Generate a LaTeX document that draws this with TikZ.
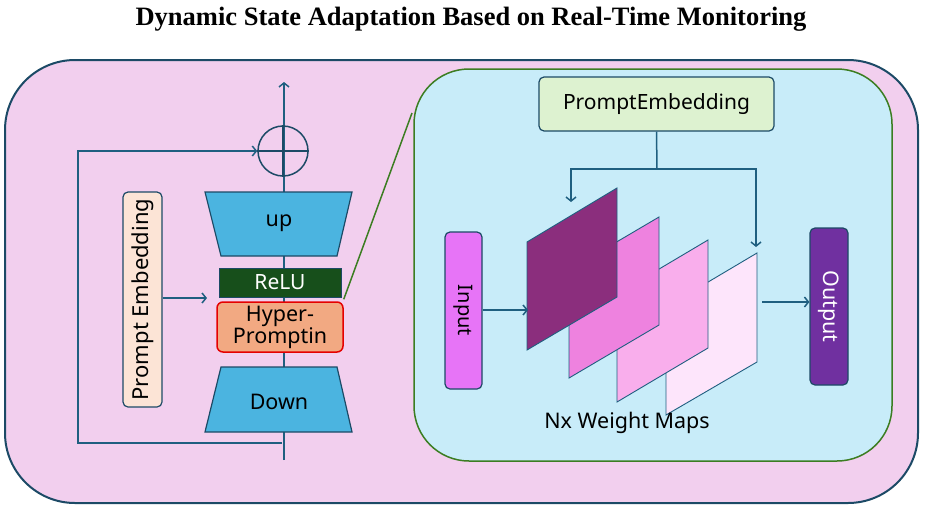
\documentclass[tikz,border=0pt]{standalone}
\usepackage{fontspec}
\setmainfont{Liberation Serif}
\newfontfamily\diagfont{Noto Sans}
\usetikzlibrary{arrows.meta, positioning}

\definecolor{bgpink}{HTML}{F2CFEE}
\definecolor{navy}{HTML}{1C4A66}
\definecolor{wire}{HTML}{1F5F80}
\definecolor{blockblue}{HTML}{4BB4E0}
\definecolor{relugreen}{HTML}{174F1B}
\definecolor{hypersalmon}{HTML}{F2A982}
\definecolor{peach}{HTML}{FCE4D6}
\definecolor{skyblue}{HTML}{C8ECF9}
\definecolor{framegreen}{HTML}{3C7D22}
\definecolor{mint}{HTML}{DDF2D0}
\definecolor{inmagenta}{HTML}{E774F7}
\definecolor{outpurple}{HTML}{7030A0}
\definecolor{mapA}{HTML}{8B2E7D}
\definecolor{mapB}{HTML}{EE82DF}
\definecolor{mapC}{HTML}{F9AEEC}
\definecolor{mapD}{HTML}{FDE5FB}

\newcommand{\fsz}[1]{\diagfont\fontsize{#1}{#1}\selectfont}

\tikzset{
	wireline/.style={draw=wire, line width=1.5pt},
	flow/.style={wireline, -{Straight Barb[length=4pt,width=10pt]}},
	box/.style={draw=navy, line width=1.2pt, rounded corners=5pt, inner sep=0pt},
	mapsheet/.style={draw=wire, line width=0.9pt}
}

\begin{document}
\begin{tikzpicture}[x=1pt, y=-1pt]
	\useasboundingbox (0,0) rectangle (943,509);
	\node (title) at (471,19) {\bfseries\fontsize{26.5}{26.5}\selectfont Dynamic State Adaptation Based on Real-Time Monitoring};

	% outer panel
	\draw[fill=bgpink, draw=navy, line width=2pt, rounded corners=70pt] (5,60) rectangle (918,503);

	% left: adapter block
	\coordinate (in) at (284,460);
	\coordinate (out) at (284,82);
	\draw[flow] (in) -- (out);
	\node[circle, draw=navy, line width=1.5pt, minimum size=50pt, inner sep=0pt] (sum) at (283,151) {};
	\draw[navy, line width=1.5pt] (sum.west) -- (sum.east);
	\draw[navy, line width=2.5pt] (sum.north) -- (sum.south);
	\coordinate (skip) at (282,443);
	\draw[flow] (skip) -| (78,151) -- (sum.west);

	\draw[fill=blockblue, draw=navy, line width=1.2pt] (205,192) -- (352,192) -- (337,256) -- (221,256) -- cycle;
	\node[font=\fsz{21.5}] (up) at (279,223) {up};
	\node[fill=relugreen, draw=navy, line width=1pt, minimum width=122pt, minimum height=29pt, inner sep=0pt, text=white, font=\fsz{21}] (relu) at (280,282.5) {ReLU};
	\node[fill=hypersalmon, draw=red!90!black, line width=1.5pt, rounded corners=6pt, minimum width=126pt, minimum height=50pt, inner sep=0pt, align=center, font=\diagfont\fontsize{21.5}{18.5}\selectfont] (hyper) at (280,327) {Hyper-\\Promptin};
	\draw[fill=blockblue, draw=navy, line width=1.2pt] (221,367) -- (337,367) -- (352,432) -- (205,432) -- cycle;
	\node[font=\fsz{21.5}] (down) at (279,402) {Down};

	\node[box, fill=peach, minimum width=215pt, minimum height=39pt, rotate=90, font=\fsz{22}] (prompt) at (142.5,299.5) {Prompt Embedding};
	\draw[flow] (prompt.south |- 0,298) -- (207,298);

	% zoom line
	\draw[framegreen, line width=1.5pt] (hyper.north east) ++(0,-2) -- (412,113);

	% right: detail panel
	\draw[fill=skyblue, draw=framegreen, line width=1.5pt, rounded corners=55pt] (414,69) rectangle (892,461);
	\node[box, fill=mint, minimum width=235pt, minimum height=54pt, font=\fsz{21}] (pe) at (656.5,104) {PromptEmbedding};
	\node[box, fill=inmagenta, minimum width=157pt, minimum height=37pt, rotate=-90, font=\fsz{20}] (input) at (463.5,310.5) {Input};
	\node[box, fill=outpurple, text=white, minimum width=157pt, minimum height=38pt, rotate=-90, font=\fsz{21.5}] (output) at (829,306.5) {Output};

	% weight maps, back to front
	\draw[mapsheet, fill=mapD] (666,307) -- (757,253) -- (757,362) -- (666,415) -- cycle;
	\draw[mapsheet, fill=mapC] (617,294) -- (708,240) -- (708,348) -- (617,402) -- cycle;
	\draw[mapsheet, fill=mapB] (569,270) -- (659,217) -- (659,325) -- (569,378) -- cycle;
	\draw[mapsheet, fill=mapA] (527,242) -- (617,188) -- (617,297) -- (527,350) -- cycle;
	\coordinate (mapin) at (528,310);
	\coordinate (mapout) at (762,302);
	\coordinate (hitA) at (571,202);
	\coordinate (hitD) at (756,247);
	\node[font=\fsz{21.5}] (maps) at (627,423) {Nx Weight Maps};

	\draw[wireline] (pe.south) -- (657,169) coordinate (split);
	\draw[flow] (split) -| (hitA);
	\draw[flow] (split) -| (hitD);
	\draw[flow] (input.north |- mapin) -- (mapin);
	\draw[flow] (mapout) -- (output.south |- mapout);
\end{tikzpicture}
\end{document}
